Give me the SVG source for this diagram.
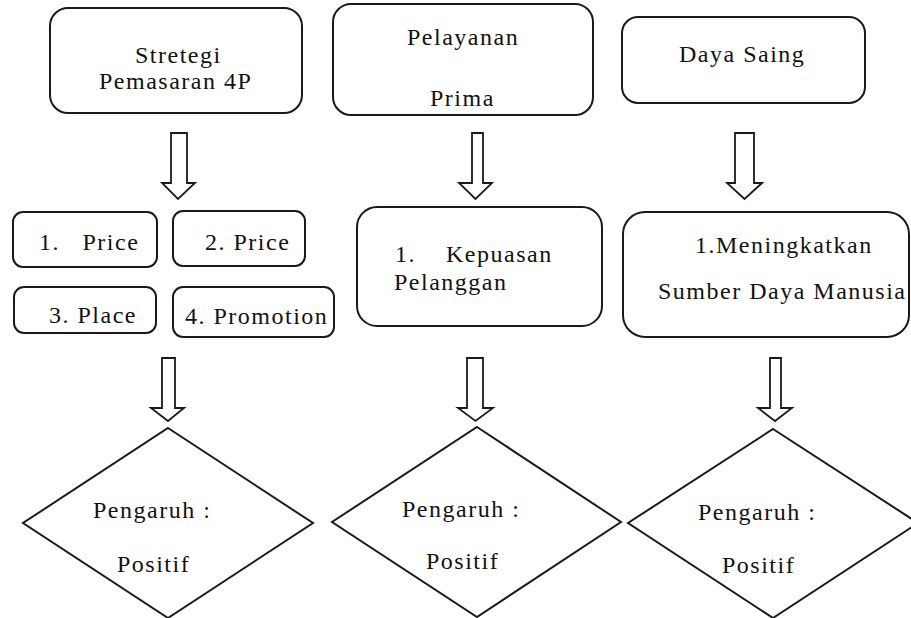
<svg xmlns="http://www.w3.org/2000/svg" width="911" height="618" viewBox="0 0 911 618">
<style>
.box{fill:#fff;stroke:#1a1a1a;stroke-width:2}
.dia{fill:#fff;stroke:#1a1a1a;stroke-width:2}
.arr{fill:#fff;stroke:#1a1a1a;stroke-width:1.8;stroke-linejoin:miter}
</style>
<rect width="911" height="618" fill="#fff"/>
<g id="connectors">
<polygon class="arr" points="171,133 187,133 187,183 195,183 178,199 162,183 171,183"/>
<polygon class="arr" points="472,133 483,133 483,183 492,183 475.5,199 459,183 472,183"/>
<polygon class="arr" points="735,133 754,133 754,183 762,183 744.5,199 727,183 735,183"/>
<polygon class="arr" points="162,358 175,358 175,408 184,408 168,421 151,408 162,408"/>
<polygon class="arr" points="467,358 483,358 483,408 493,408 475.5,421 458,408 467,408"/>
<polygon class="arr" points="770,358 781,358 781,408 792,408 775,421 758,408 770,408"/>
</g>
<g font-family="Liberation Serif" font-size="24" letter-spacing="1.5" fill="#111">
<g id="node-stretegi">
<rect class="box" x="50" y="8" width="252" height="105" rx="18"/>
<text x="135" y="63">Stretegi</text>
<text x="99" y="89">Pemasaran 4P</text>
</g>
<g id="node-pelayanan">
<rect class="box" x="333" y="4" width="260" height="111" rx="18"/>
<text x="407" y="45">Pelayanan</text>
<text x="430" y="106">Prima</text>
</g>
<g id="node-dayasaing">
<rect class="box" x="622" y="17" width="243" height="86" rx="16"/>
<text x="679" y="62">Daya Saing</text>
</g>
<g id="node-price1">
<rect class="box" x="13" y="212" width="144" height="55" rx="10"/>
<text x="39" y="250" xml:space="preserve">1.   Price</text>
</g>
<g id="node-price2">
<rect class="box" x="173" y="211" width="132" height="55" rx="10"/>
<text x="205" y="250">2. Price</text>
</g>
<g id="node-place">
<rect class="box" x="14" y="287" width="142" height="46" rx="10"/>
<text x="49" y="323">3. Place</text>
</g>
<g id="node-promotion">
<rect class="box" x="173" y="287" width="161" height="50" rx="10"/>
<text x="185" y="324">4. Promotion</text>
</g>
<g id="node-kepuasan">
<rect class="box" x="357" y="207" width="245" height="119" rx="20"/>
<text x="395" y="262" xml:space="preserve">1.    Kepuasan</text>
<text x="394" y="290">Pelanggan</text>
</g>
<g id="node-sdm">
<rect class="box" x="623" y="212" width="286" height="125" rx="22"/>
<text x="695" y="253">1.Meningkatkan</text>
<text x="658" y="299">Sumber Daya Manusia</text>
</g>
<g id="node-pengaruh1">
<polygon class="dia" points="168,428 313,523 168,618 23,523"/>
<text x="93" y="518">Pengaruh :</text>
<text x="117" y="572">Positif</text>
</g>
<g id="node-pengaruh2">
<polygon class="dia" points="477,427 621,522 477,617 332,522"/>
<text x="402" y="517">Pengaruh :</text>
<text x="426" y="569">Positif</text>
</g>
<g id="node-pengaruh3">
<polygon class="dia" points="773,429 918,523 773,618 628,523"/>
<text x="698" y="520">Pengaruh :</text>
<text x="722" y="573">Positif</text>
</g>
</g>
</svg>
